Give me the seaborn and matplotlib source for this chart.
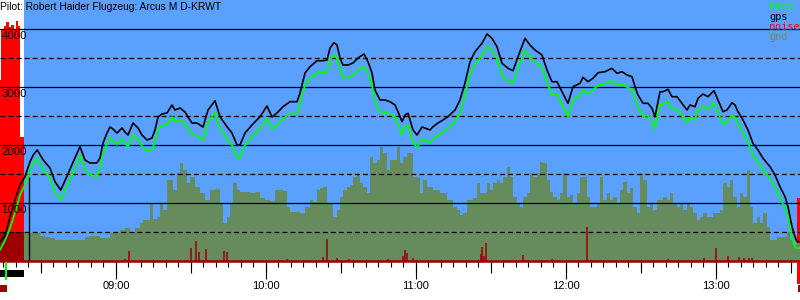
import matplotlib
matplotlib.use('Agg')
import matplotlib.pyplot as plt
import seaborn as sns
import numpy as np
import pandas as pd
from matplotlib.patches import Rectangle
from matplotlib.ticker import FixedLocator, MultipleLocator, FuncFormatter, NullFormatter

sns.set_theme(style='white')
plt.rcParams['font.family'] = ['Liberation Sans', 'DejaVu Sans']
plt.rcParams['lines.scale_dashes'] = False

# ---------------- data (time in minutes after midnight, altitude in m) ----------------
title = "Pilot: Robert Haider Flugzeug: Arcus M D-KRWT"

gps_time = [493.6, 495.6, 497.6, 499.6, 501.6, 503.6, 505.6, 506.9, 508.5, 510.9, 513.6, 515.6, 517.9,
            520.3, 522.9, 525.6, 527.6, 529.6, 532.3, 533.6, 534.8, 536.4, 537.6, 538.8, 540.4, 542.4,
            543.6, 544.8, 546.8, 548.8, 550.4, 552.4, 554.4, 555.6, 556.8, 558.4, 560.4, 562.4, 563.6,
            565.6, 567.6, 568.8, 570.4, 572.4, 574.8, 576.8, 579.6, 581.6, 584.4, 586.4, 588.4, 589.6,
            591.6, 594.4, 597.6, 600.4, 602.4, 604.4, 606.8, 609.6, 612.4, 613.6, 615.6, 617.6, 620.4,
            622.8, 624.4, 625.6, 627.2, 628.4, 629.6, 630.8, 632.8, 634.8, 636.8, 639.2, 640.8, 642.4,
            643.6, 645.6, 647.6, 649.6, 651.6, 652.8, 654.4, 655.6, 656.8, 657.6, 658.8, 660.4, 662.4,
            665.6, 666.8, 668.8, 670.8, 672.8, 675.6, 677.6, 679.6, 681.6, 683.6, 686.4, 688.4, 690.4,
            692.4, 694.4, 696.8, 698.8, 700.8, 703.6, 705.6, 707.6, 710.4, 712.4, 714.4, 716.4, 718.4,
            720.8, 722.8, 725.6, 726.8, 728.8, 730.8, 732.8, 735.6, 738.4, 740.4, 742.4, 744.4, 746.4,
            747.6, 748.8, 750.8, 752.8, 754.4, 755.6, 757.6, 758.8, 760.8, 762.4, 764.4, 766.4, 768.4,
            769.6, 771.6, 772.8, 774.8, 776.8, 779.2, 780.8, 782.8, 784.4, 786.4, 787.6, 788.8, 790.8,
            792.8, 794.8, 796.8, 798.8, 801.6, 803.6, 805.6, 807.6, 808.8, 810.4, 811.6, 812.4, 813.6]

gps_alt = [329, 436, 764, 1057, 1315, 1458, 1717, 1833, 1919, 1746, 1608, 1372, 1229,
           1458, 1717, 1976, 1746, 1695, 1695, 1781, 2039, 2212, 2315, 2281, 2212, 2298,
           2229, 2177, 2384, 2298, 2177, 2091, 2126, 2264, 2488, 2539, 2557, 2695, 2608,
           2643, 2574, 2488, 2384, 2384, 2315, 2608, 2769, 2493, 2320, 2212, 2005, 2005,
           2212, 2350, 2493, 2677, 2488, 2557, 2665, 2752, 2752, 2902, 3246, 3355, 3458,
           3458, 3470, 3677, 3769, 3729, 3505, 3384, 3384, 3419, 3505, 3574, 3441, 3246,
           2953, 2781, 2781, 2752, 2695, 2579, 2407, 2522, 2552, 2436, 2264, 2177, 2315,
           2264, 2320, 2384, 2436, 2493, 2608, 2781, 3074, 3441, 3613, 3758, 3919, 3844,
           3700, 3414, 3327, 3286, 3527, 3844, 3729, 3643, 3557, 3298, 3096, 3096, 2924,
           2724, 3010, 3069, 3172, 3096, 3155, 3251, 3269, 3327, 3241, 3269, 3212, 3183,
           3010, 2867, 2724, 2724, 2638, 2493, 2924, 2924, 2965, 2838, 2838, 2724, 2608,
           2695, 2665, 2810, 2884, 2838, 2941, 2781, 2579, 2608, 2734, 2695, 2579, 2436,
           2264, 2034, 1919, 1776, 1631, 1488, 1286, 1114, 941, 597, 424, 338, 338]

baro_alt = [195, 360, 574, 833, 1143, 1315, 1574, 1695, 1781, 1580, 1440, 1190, 1057,
            1280, 1540, 1833, 1580, 1500, 1458, 1590, 1850, 2030, 2130, 2090, 2010, 2110,
            2030, 1980, 2180, 2100, 1980, 1890, 1930, 2060, 2280, 2340, 2350, 2490, 2410,
            2440, 2370, 2280, 2180, 2170, 2090, 2400, 2560, 2290, 2110, 2000, 1790, 1790,
            2000, 2150, 2290, 2470, 2280, 2350, 2460, 2550, 2550, 2700, 3040, 3150, 3250,
            3250, 3270, 3470, 3560, 3520, 3300, 3170, 3170, 3210, 3300, 3360, 3230, 3040,
            2740, 2580, 2570, 2540, 2490, 2370, 2190, 2320, 2350, 2230, 2050, 1960, 2110,
            2050, 2110, 2170, 2230, 2290, 2400, 2570, 2860, 3230, 3400, 3550, 3710, 3640,
            3490, 3200, 3110, 3070, 3320, 3640, 3520, 3430, 3350, 3080, 2880, 2880, 2700,
            2490, 2790, 2860, 2960, 2890, 2950, 3040, 3060, 3120, 3030, 3060, 3000, 2970,
            2800, 2650, 2510, 2510, 2420, 2280, 2710, 2710, 2750, 2620, 2620, 2510, 2390,
            2480, 2450, 2600, 2670, 2620, 2730, 2570, 2370, 2400, 2520, 2480, 2370, 2230,
            2060, 1830, 1720, 1580, 1430, 1290, 1090, 920, 770, 420, 240, 229, 229]

gnd_time = [493.6, 503.2, 503.6, 507.6, 509.6, 511.6, 513.6, 515.6, 525.6, 527.6, 529.6, 533.6, 537.6,
            539.6, 541.6, 543.6, 545.6, 547.6, 549.6, 550.8, 552.4, 553.6, 554.8, 556.4, 557.6, 558.8,
            560.4, 561.6, 562.8, 564.4, 565.6, 566.8, 568.4, 569.6, 571.6, 573.6, 575.6, 577.6, 579.6,
            581.6, 582.8, 584.4, 585.6, 586.8, 588.4, 589.6, 593.6, 595.6, 597.6, 599.6, 601.6, 603.6,
            606.8, 608.4, 609.6, 613.6, 615.6, 617.6, 618.8, 620.4, 621.6, 622.8, 624.4, 625.6, 626.8,
            628.4, 629.6, 630.8, 632.4, 633.6, 634.8, 636.4, 637.6, 638.8, 640.4, 641.6, 642.8, 644.4,
            645.6, 646.8, 648.4, 649.6, 650.8, 652.4, 653.6, 654.8, 656.4, 657.6, 658.8, 660.4, 661.6,
            662.8, 664.4, 666.8, 669.6, 670.8, 672.4, 673.6, 674.8, 676.4, 677.6, 678.8, 680.4, 682.8,
            684.4, 685.6, 686.8, 688.4, 689.6, 690.8, 692.4, 693.6, 694.8, 696.4, 697.6, 698.8, 700.4,
            701.6, 702.8, 704.4, 705.6, 706.8, 708.4, 709.6, 710.8, 712.4, 713.6, 714.8, 716.4, 717.6,
            718.8, 720.4, 721.6, 722.8, 724.4, 725.6, 726.8, 728.4, 729.6, 730.8, 732.4, 733.6, 734.8,
            736.4, 737.6, 738.8, 740.4, 741.6, 742.8, 744.4, 745.6, 746.8, 748.4, 749.6, 750.8, 752.4,
            753.6, 754.8, 756.4, 758.8, 760.4, 761.6, 762.8, 764.4, 765.6, 766.8, 768.4, 769.6, 770.8,
            772.4, 773.6, 774.8, 776.4, 778.8, 781.6, 782.8, 784.4, 785.6, 786.8, 788.4, 789.6, 790.8,
            792.4, 793.6, 794.8, 796.4, 797.6, 798.8, 800.4, 801.6, 804.4, 808.4, 809.6, 810.8, 812.4,
            813.6]

gnd_alt = [505, 505, 483, 488, 436, 419, 402, 367, 367, 419, 436, 402, 488,
           488, 539, 574, 505, 574, 660, 712, 712, 1005, 729, 764, 1005, 884,
           1402, 1402, 1229, 1522, 1695, 1574, 1350, 1453, 1281, 1177, 1057, 1229, 1246,
           1005, 660, 764, 1005, 1350, 1229, 1195, 1177, 1195, 1091, 1057, 1040, 1229,
           1212, 936, 850, 833, 936, 1057, 1022, 1229, 1264, 1281, 1005, 1005, 764,
           884, 1109, 1229, 1281, 1315, 1453, 1488, 1350, 1281, 1177, 1798, 1695, 1746,
           1971, 1867, 1574, 1746, 1746, 1971, 1695, 1798, 1867, 1867, 1453, 1453, 1177,
           1402, 1281, 1229, 1177, 1177, 1057, 1057, 936, 884, 798, 833, 1057, 1091,
           1350, 1177, 1177, 1350, 1229, 1350, 1402, 1350, 1453, 1626, 1453, 1109, 1005,
           936, 1109, 1177, 1522, 1453, 1522, 1712, 1695, 1402, 1195, 1109, 1057, 1177,
           1522, 1109, 1143, 1005, 1177, 1453, 1453, 1109, 936, 936, 1005, 1453, 1057,
           1177, 1057, 1109, 1005, 1229, 1367, 1177, 1264, 936, 833, 1522, 1402, 936,
           1005, 884, 1057, 1109, 1057, 1177, 1005, 936, 1005, 884, 1005, 936, 833,
           712, 764, 833, 764, 833, 884, 1350, 1281, 1402, 1109, 936, 1177, 1109,
           1574, 936, 660, 764, 660, 833, 591, 367, 419, 505, 367, 281, 315,
           315]

# noise (ENL, 0..1000 = full chart height)
noise_time = [493.6, 494.0, 495.2, 496.0, 497.2, 498.0, 499.2, 500.0, 500.8, 501.6, 503.2, 812.4, 813.6]
noise_val = [694, 885, 900, 916, 895, 905, 890, 920, 900, 475, 0, 242, 242]
spike_time = [543.6, 545.2, 570.0, 572.2, 573.2, 576.0, 583.2, 584.4, 608.4, 622.8, 624.4, 628.4, 633.2,
              648.8, 654.8, 655.6, 656.4, 658.8, 686.0, 686.4, 687.2, 688.0, 702.8, 714.4, 728.4,
              760.8, 775.2, 780.0, 784.8, 789.2, 791.2, 793.2, 794.4]
spike_val = [9, 41, 51, 78, 36, 47, 41, 36, 9, 16, 85, 13, 9,
             9, 20, 43, 32, 13, 28, 55, 20, 70, 24, 9, 131,
             9, 13, 51, 20, 16, 13, 13, 13]

takeoff_time = 503.2
release_time = 505.3
release_alt = 1460
x_start, x_end = 493.6, 813.6
alt_max = 4505
ytick_vals = [1000, 2000, 3000, 4000]
ytick_minor = [500, 1500, 2500, 3500]
legend_labels = ['baro', 'gps', 'noise', 'gnd']
legend_colors = ['#00ff00', '#000000', '#ff0000', '#6b8c5e']

# ---------------- colours ----------------
BLUE = '#5aa0ff'
GND = '#668c5e'
DARKRED = '#9e0000'

# ---------------- figure ----------------
fig = plt.figure(figsize=(8, 3), dpi=100)
fig.patch.set_facecolor('white')
AX_H = 261.3
ax = fig.add_axes([0, 1 - AX_H / 300, 1, AX_H / 300])
ax.set_facecolor('white')
for s in ax.spines.values():
    s.set_visible(False)

ax.set_xlim(x_start, x_end)
ax.set_ylim(0, alt_max)

# blue sky during flight
ax.axvspan(takeoff_time, x_end, color=BLUE, zorder=0.1, lw=0)

# noise (engine) fill, in axes-fraction of height
xt = ax.get_xaxis_transform()
ax.fill_between(noise_time, 0, np.array(noise_val) / 1000.0, step='post', color='#ff0000',
                lw=0, transform=xt, zorder=0.3)

# ground
gt = np.array(gnd_time)
ga = np.array(gnd_alt)
pre = gt <= takeoff_time
post = gt >= takeoff_time
ax.fill_between(gt[pre], 0, ga[pre], step='post', color=DARKRED, lw=0, zorder=0.5)
ax.fill_between(gt[post], 0, ga[post], step='post', color=GND, lw=0, zorder=0.5)

# noise spikes in flight
ax.vlines(spike_time, 0, np.array(spike_val) / 1000.0, colors=DARKRED, lw=1.1,
          transform=xt, zorder=0.6)

# grid lines
ax.yaxis.set_major_locator(FixedLocator(ytick_vals))
ax.yaxis.set_minor_locator(FixedLocator(ytick_minor))
ax.set_axisbelow('line')
ax.grid(which='major', axis='y', color='black', lw=0.9, ls='-')
ax.grid(which='minor', axis='y', color='black', lw=0.9, ls=(0, (3.6, 2.2)))
ax.grid(which='both', axis='x', visible=False)
ax.tick_params(axis='y', which='both', length=0, labelleft=False)

# altitude labels just below each solid line
yt = ax.get_yaxis_transform()
for v in ytick_vals:
    ax.annotate(str(v), xy=(0, v), xycoords=yt, xytext=(1, -1.2), textcoords='offset points',
                ha='left', va='top', fontsize=8.2, color='black', zorder=5)

# flight lines
df = pd.DataFrame({'time': gps_time, 'gps': gps_alt, 'baro': baro_alt})
sns.lineplot(data=df, x='time', y='baro', color='#00ff00', lw=1.3, ax=ax, estimator=None,
             sort=False, zorder=2)
sns.lineplot(data=df, x='time', y='gps', color='black', lw=1.2, ax=ax, estimator=None,
             sort=False, zorder=2.1)
ax.vlines([release_time], 0, [release_alt], colors='black', lw=1.0, zorder=2)

# baseline
ax.axhline(0, color=DARKRED, lw=1.8, clip_on=False, zorder=3)

ax.set_xlabel('')
ax.set_ylabel('')

# x ticks
ax.xaxis.set_major_locator(MultipleLocator(60))
ax.xaxis.set_minor_locator(MultipleLocator(5))
ax.xaxis.set_major_formatter(FuncFormatter(lambda v, p: f"{int(v // 60):02d}:{int(v % 60):02d}"))
ax.xaxis.set_minor_formatter(NullFormatter())
ax.tick_params(axis='x', which='major', direction='out', length=13, width=0.8, color='black',
               labelsize=8, pad=1.0, labelcolor='black', bottom=True)
ax.tick_params(axis='x', which='minor', direction='out', length=4.3, width=0.8, color='black',
               bottom=True)
sec = ax.secondary_xaxis('bottom')
sec.xaxis.set_major_locator(MultipleLocator(30))
sec.tick_params(axis='x', which='major', direction='out', length=8.4, width=0.8, color='black',
                labelbottom=False)
sec.tick_params(axis='x', which='minor', length=0)
for s in sec.spines.values():
    s.set_visible(False)

# event markers below the axis
def ay(px):
    return (AX_H - px) / AX_H

markers = [
    (x_start, takeoff_time, 270, 277, 'black'),
    (495.6, 496.4, 262, 280, '#00ff00'),
    (x_start, 496.4, 285, 292, DARKRED),
    (812.4, x_end, 262, 284, '#ff0000'),
    (812.8, x_end, 285, 292, DARKRED),
]
for x0, x1, ytop, ybot, col in markers:
    ax.add_patch(Rectangle((x0, ay(ybot)), x1 - x0, ay(ytop) - ay(ybot), transform=xt,
                           color=col, lw=0, clip_on=False, zorder=4))

# title
fig.text(0.0005, 1 - 6.5 / 300, title, ha='left', va='center', fontsize=7.4, color='black')

# legend text
for i, (lab, col) in enumerate(zip(legend_labels, legend_colors)):
    fig.text(769.5 / 800, 1 - (6.7 + 10.2 * i) / 300, lab, ha='left', va='center',
             fontsize=7.4, color=col, family=['DejaVu Sans Mono', 'DejaVu Sans'])

fig.savefig('out.png', dpi=100, facecolor='white')
